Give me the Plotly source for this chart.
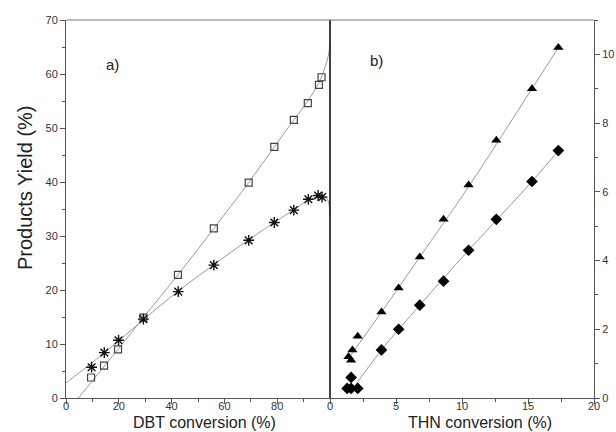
import plotly.graph_objects as go

# ---- data ----
# panel a) DBT conversion (%) vs products yield (%)
dbt_sq_x = [9.5, 14.4, 19.7, 29.3, 42.4, 56.0, 69.2, 78.9, 86.3, 91.6, 95.8, 96.8]
dbt_sq_y = [3.8, 6.0, 9.0, 14.9, 22.8, 31.4, 39.9, 46.5, 51.5, 54.6, 58.0, 59.4]
dbt_st_x = [9.7, 14.5, 19.9, 29.3, 42.5, 56.0, 69.2, 78.9, 86.3, 91.8, 95.5, 97.0]
dbt_st_y = [5.7, 8.4, 10.7, 14.6, 19.7, 24.6, 29.2, 32.5, 34.8, 36.8, 37.5, 37.2]
# fitted curves
fit_sq_x = [4.7, 10, 20, 29.3, 42.4, 56, 69.2, 78.9, 86.3, 91.6, 95.8, 97.5, 98.8, 99.6, 100]
fit_sq_y = [0.0, 3.2, 9.2, 14.9, 22.8, 31.4, 39.9, 46.5, 51.5, 55.0, 58.4, 60.4, 62.3, 64.0, 65.6]
fit_st_x = [0, 10, 20, 29.3, 42.5, 56, 69.2, 78.9, 86.3, 91.8, 95.5, 97.8, 99.2, 99.8, 100]
fit_st_y = [2.8, 6.6, 10.6, 14.5, 19.8, 24.7, 29.3, 32.5, 34.9, 36.6, 37.3, 37.3, 36.6, 35.2, 33.5]

# panel b) THN conversion (%) vs products yield (%)
thn_tr_x = [1.4, 1.6, 1.7, 2.1, 3.9, 5.2, 6.8, 8.6, 10.5, 12.6, 15.3, 17.3]
thn_tr_y = [1.2, 1.1, 1.4, 1.8, 2.5, 3.2, 4.1, 5.2, 6.2, 7.5, 9.0, 10.2]
thn_di_x = [1.3, 1.6, 2.1, 1.6, 3.9, 5.2, 6.8, 8.6, 10.5, 12.6, 15.3, 17.3]
thn_di_y = [0.28, 0.28, 0.28, 0.6, 1.4, 2.0, 2.7, 3.4, 4.3, 5.2, 6.3, 7.2]
fit_tr_x = [1.4, 3.9, 6.8, 10.5, 15.3, 17.3]
fit_tr_y = [1.15, 2.5, 4.1, 6.15, 9.0, 10.2]
fit_di_x = [1.7, 3.9, 6.8, 10.5, 15.3, 17.3]
fit_di_y = [0.25, 1.4, 2.7, 4.3, 6.3, 7.2]

left_x_ticks = [0, 20, 40, 60, 80]
right_x_ticks = [0, 5, 10, 15, 20]
left_y_ticks = [0, 10, 20, 30, 40, 50, 60, 70]
right_y_ticks = [0, 2, 4, 6, 8, 10]

FIT = dict(color="#9a9a9a", width=1, shape="spline")
fig = go.Figure()
fig.add_trace(go.Scatter(x=fit_sq_x, y=fit_sq_y, mode="lines", line=FIT, xaxis="x", yaxis="y"))
fig.add_trace(go.Scatter(x=fit_st_x, y=fit_st_y, mode="lines", line=FIT, xaxis="x", yaxis="y"))
fig.add_trace(go.Scatter(x=dbt_sq_x, y=dbt_sq_y, mode="markers", xaxis="x", yaxis="y",
                         marker=dict(symbol="square-open", size=7, color="#444", line=dict(width=1.2))))
fig.add_trace(go.Scatter(x=dbt_st_x, y=dbt_st_y, mode="markers", xaxis="x", yaxis="y",
                         marker=dict(symbol="asterisk-open", size=9, color="#111", line=dict(width=1.4, color="#111"))))
fig.add_trace(go.Scatter(x=fit_tr_x, y=fit_tr_y, mode="lines", line=FIT, xaxis="x2", yaxis="y2"))
fig.add_trace(go.Scatter(x=fit_di_x, y=fit_di_y, mode="lines", line=FIT, xaxis="x2", yaxis="y2"))
fig.add_trace(go.Scatter(x=thn_tr_x, y=thn_tr_y, mode="markers", xaxis="x2", yaxis="y2",
                         marker=dict(symbol="triangle-up", size=9, color="black")))
fig.add_trace(go.Scatter(x=thn_di_x, y=thn_di_y, mode="markers", xaxis="x2", yaxis="y2",
                         marker=dict(symbol="diamond", size=9, color="black")))

TF = dict(family="Liberation Sans, Arial, sans-serif", size=11, color="#333")
AX = dict(showgrid=False, zeroline=False, showline=True, linecolor="#555", linewidth=1,
          ticks="outside", ticklen=5, tickcolor="#555", tickfont=TF, automargin=False)
ANF = dict(family="Liberation Sans, Arial", color="#222")
fig.update_layout(
    width=616, height=432, showlegend=False,
    margin=dict(l=66, r=22, t=20, b=34),
    plot_bgcolor="white", paper_bgcolor="white",
    xaxis=dict(AX, domain=[0, 0.5], range=[0, 100], tickmode="array", tickvals=left_x_ticks,
               minor=dict(dtick=10, tick0=0, ticks="outside", ticklen=3, tickcolor="#555"),
               anchor="y", ticklabelstandoff=-7),
    xaxis2=dict(AX, domain=[0.5, 1], range=[0, 20], tickmode="array", tickvals=right_x_ticks,
                minor=dict(dtick=2.5, tick0=0, ticks="outside", ticklen=3, tickcolor="#555"),
                anchor="y2", ticklabelstandoff=-7),
    yaxis=dict(AX, range=[0, 70], tickmode="array", tickvals=left_y_ticks,
               minor=dict(dtick=5, tick0=0, ticks="outside", ticklen=3, tickcolor="#555"),
               anchor="x", side="left"),
    yaxis2=dict(AX, range=[0, 11], tickmode="array", tickvals=right_y_ticks,
                minor=dict(dtick=1, tick0=0, ticks="outside", ticklen=3, tickcolor="#555"),
                anchor="x2", side="right"),
    shapes=[
        dict(type="line", xref="paper", yref="paper", x0=0.5, x1=0.5, y0=0, y1=1,
             line=dict(color="black", width=1.5)),
        dict(type="line", xref="paper", yref="paper", x0=0, x1=1, y0=1, y1=1,
             line=dict(color="#777", width=1)),
    ],
    annotations=[
        dict(text="Products Yield (%)", xref="paper", yref="paper", x=(25 - 66) / 528, y=(398 - 188) / 378,
             xanchor="center", yanchor="middle",
             textangle=-90, showarrow=False, font=dict(ANF, size=20)),
        dict(text="DBT conversion (%)", xref="paper", yref="paper", x=(204 - 66) / 528, y=-(433 - 398) / 378,
             xanchor="center", yanchor="bottom", showarrow=False, font=dict(ANF, size=16)),
        dict(text="THN conversion (%)", xref="paper", yref="paper", x=(480 - 66) / 528, y=-(433 - 398) / 378,
             xanchor="center", yanchor="bottom", showarrow=False, font=dict(ANF, size=16)),
        dict(text="a)", xref="paper", yref="paper", x=(112 - 66) / 528, y=(398 - 64) / 378,
             xanchor="center", yanchor="middle", showarrow=False, font=dict(ANF, size=15)),
        dict(text="b)", xref="paper", yref="paper", x=(376 - 66) / 528, y=(398 - 60) / 378,
             xanchor="center", yanchor="middle", showarrow=False, font=dict(ANF, size=15)),
    ],
)
fig.write_html("out.html", config={"displayModeBar": False},
               post_script="document.body.style.margin='0';")
